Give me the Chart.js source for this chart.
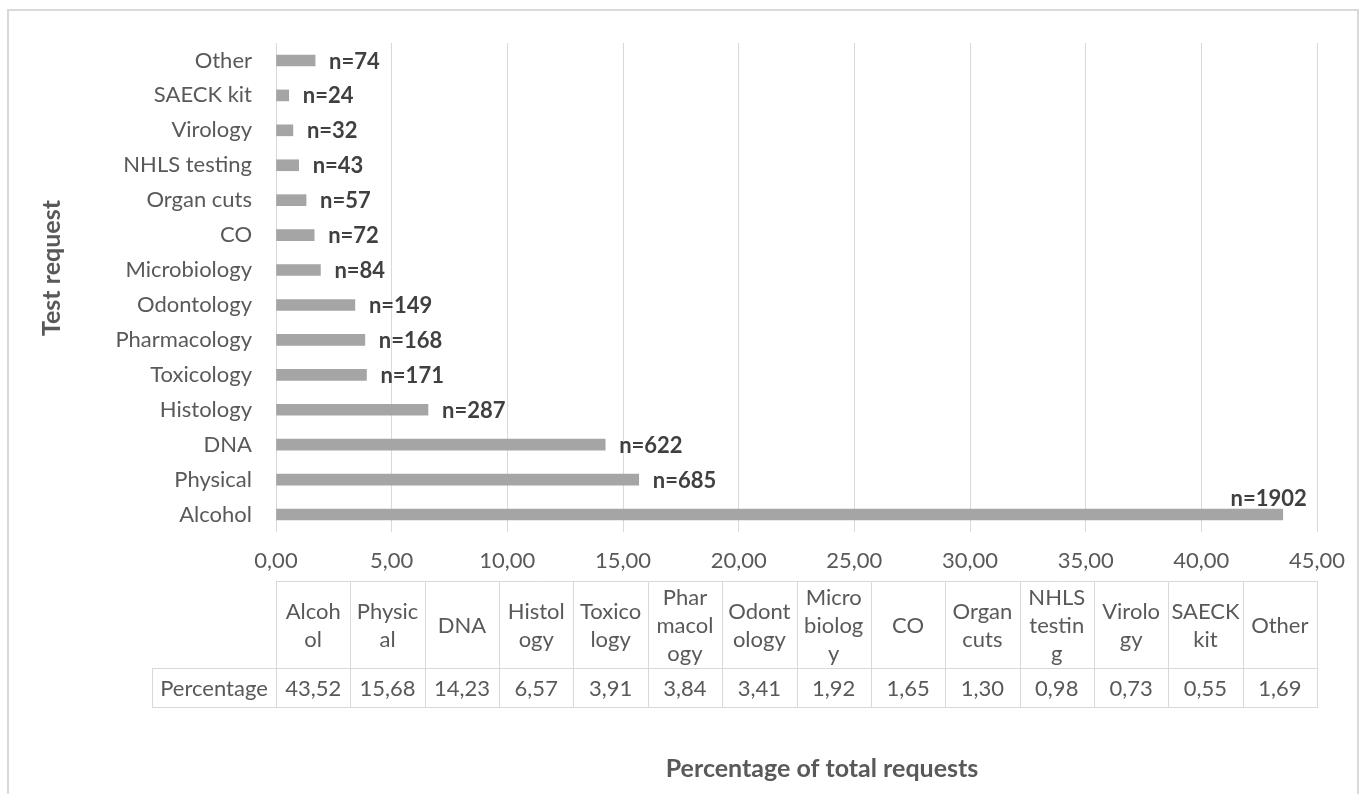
<!DOCTYPE html>
<html>
<head>
<meta charset="utf-8">
<title>Test requests</title>
<script src="https://cdn.jsdelivr.net/npm/chart.js@4.4.1/dist/chart.umd.min.js"></script>
<style>
  html, body { margin: 0; padding: 0; background: #ffffff; }
  #wrap { position: relative; width: 1364px; height: 794px; }
  canvas { display: block; }
</style>
</head>
<body>
<div id="wrap"><canvas id="chart" width="1364" height="794"></canvas></div>
<script>
// Test request categories, in table order (Alcohol first)
const categories = ['Alcohol', 'Physical', 'DNA', 'Histology', 'Toxicology', 'Pharmacology',
  'Odontology', 'Microbiology', 'CO', 'Organ cuts', 'NHLS testing', 'Virology', 'SAECK kit', 'Other'];

// Share of all requests, in percent
const percentages = [43.52, 15.68, 14.23, 6.57, 3.91, 3.84, 3.41, 1.92, 1.65, 1.30, 0.98, 0.73, 0.55, 1.69];

// Number of requests per category
const counts = [1902, 685, 622, 287, 171, 168, 149, 84, 72, 57, 43, 32, 24, 74];

// Category names as they wrap inside the data-table header cells
const headerLines = [['Alcoh', 'ol'], ['Physic', 'al'], ['DNA'], ['Histol', 'ogy'], ['Toxico', 'logy'],
  ['Phar', 'macol', 'ogy'], ['Odont', 'ology'], ['Micro', 'biolog', 'y'], ['CO'], ['Organ', 'cuts'],
  ['NHLS', 'testin', 'g'], ['Virolo', 'gy'], ['SAECK', 'kit'], ['Other']];

const rowLabel = 'Percentage';
const yTitle = 'Test request';
const xTitle = 'Percentage of total requests';

const FONT = 'Lato, "Open Sans", sans-serif';
const LABEL_SIZE = 22;
const TITLE_SIZE = 25;
const TEXT = '#595959';
const DARK = '#404040';
const LINE = '#d9d9d9';

const fmt = v => Number(v).toFixed(2).replace('.', ',');

// Outer frame of the chart object
const framePlugin = {
  id: 'frame',
  beforeDraw(chart) {
    const ctx = chart.ctx;
    ctx.save();
    ctx.fillStyle = '#ffffff';
    ctx.fillRect(0, 0, chart.width, chart.height);
    ctx.strokeStyle = LINE;
    ctx.lineWidth = 2;
    ctx.strokeRect(8, 10, 1350, 820);
    ctx.restore();
  }
};

// "n=" count labels at the end of every bar
const countLabels = {
  id: 'countLabels',
  afterDatasetsDraw(chart) {
    const ctx = chart.ctx;
    const area = chart.chartArea;
    const meta = chart.getDatasetMeta(0);
    ctx.save();
    ctx.font = 'bold ' + LABEL_SIZE + 'px ' + FONT;
    ctx.fillStyle = DARK;
    ctx.textBaseline = 'middle';
    meta.data.forEach((bar, i) => {
      const txt = 'n=' + counts[i];
      const w = ctx.measureText(txt).width;
      const x = bar.x + 14;
      if (x + w > area.right) {
        // no room beside the bar: sit above its end instead
        ctx.textAlign = 'right';
        ctx.fillText(txt, bar.x + 24, bar.y - 16);
      } else {
        ctx.textAlign = 'left';
        ctx.fillText(txt, x, bar.y + 1);
      }
    });
    ctx.restore();
  }
};

// Data table under the axis, column-aligned with the plot area
const dataTable = {
  id: 'dataTable',
  afterDraw(chart) {
    const ctx = chart.ctx;
    const area = chart.chartArea;
    const n = categories.length;
    const colW = (area.right - area.left) / n;
    const top = area.bottom + 49;
    const headH = 87;
    const rowH = 39;
    const rowLeft = 152;
    const mid = top + headH;
    const bottom = mid + rowH;

    ctx.save();
    ctx.strokeStyle = LINE;
    ctx.lineWidth = 1;
    ctx.beginPath();
    ctx.moveTo(Math.round(area.left) + 0.5, top + 0.5);
    ctx.lineTo(Math.round(area.right) + 0.5, top + 0.5);
    ctx.moveTo(rowLeft + 0.5, mid + 0.5);
    ctx.lineTo(Math.round(area.right) + 0.5, mid + 0.5);
    ctx.moveTo(rowLeft + 0.5, bottom + 0.5);
    ctx.lineTo(Math.round(area.right) + 0.5, bottom + 0.5);
    ctx.moveTo(rowLeft + 0.5, mid);
    ctx.lineTo(rowLeft + 0.5, bottom + 1);
    for (let i = 0; i <= n; i++) {
      const x = Math.round(area.left + i * colW) + 0.5;
      ctx.moveTo(x, top);
      ctx.lineTo(x, bottom + 1);
    }
    ctx.stroke();

    ctx.fillStyle = TEXT;
    ctx.font = LABEL_SIZE + 'px ' + FONT;
    ctx.textBaseline = 'middle';
    ctx.textAlign = 'center';
    const lh = 28;
    for (let i = 0; i < n; i++) {
      const cx = area.left + (i + 0.5) * colW;
      const lines = headerLines[i];
      const y0 = top + headH / 2 - (lines.length - 1) * lh / 2 + 1;
      lines.forEach((t, k) => ctx.fillText(t, cx, y0 + k * lh));
      ctx.fillText(fmt(percentages[i]), cx, mid + rowH / 2 + 1);
    }
    ctx.fillText(rowLabel, (rowLeft + area.left) / 2, mid + rowH / 2 + 1);

    // axis titles
    ctx.font = 'bold ' + TITLE_SIZE + 'px ' + FONT;
    ctx.fillText(xTitle, 822, 769);
    ctx.translate(52, 268);
    ctx.rotate(-Math.PI / 2);
    ctx.fillText(yTitle, 0, 0);
    ctx.restore();
  }
};

new Chart(document.getElementById('chart'), {
  type: 'bar',
  data: {
    labels: categories,
    datasets: [{
      data: percentages,
      backgroundColor: '#a5a5a5',
      borderWidth: 0,
      barThickness: 11
    }]
  },
  options: {
    indexAxis: 'y',
    responsive: false,
    animation: false,
    events: [],
    layout: { padding: { left: 0, right: 47, top: 43, bottom: 222 } },
    plugins: {
      legend: { display: false },
      tooltip: { enabled: false },
      title: { display: false }
    },
    scales: {
      x: {
        min: 0,
        max: 45,
        afterFit(scale) { scale.height = 40; },
        ticks: {
          stepSize: 5,
          padding: 16,
          color: TEXT,
          font: { family: FONT, size: LABEL_SIZE },
          callback: v => fmt(v)
        },
        grid: { color: LINE, lineWidth: 1, drawTicks: false },
        border: { display: false }
      },
      y: {
        reverse: true,
        afterFit(scale) { scale.width = 276; },
        ticks: {
          padding: 24,
          color: TEXT,
          font: { family: FONT, size: LABEL_SIZE }
        },
        grid: { display: false, drawTicks: false },
        border: { display: false }
      }
    }
  },
  plugins: [framePlugin, countLabels, dataTable]
});
</script>
</body>
</html>
